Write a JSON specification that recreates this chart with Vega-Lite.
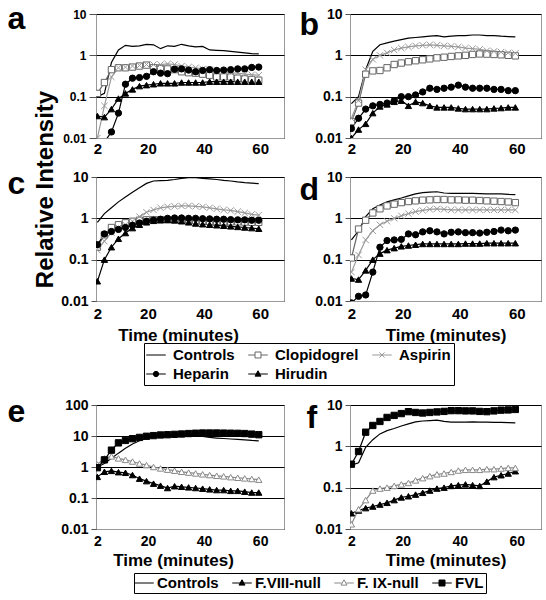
{
"$schema":"https://vega.github.io/schema/vega-lite/v6.json",
"background":"white",
"padding":{"left":6,"top":1,"right":0,"bottom":0},
"datasets":{
"a":[
{"s":"Controls","t":2,"v":0.1},{"s":"Controls","t":4.5,"v":0.12},{"s":"Controls","t":7,"v":0.67},{"s":"Controls","t":9.5,"v":1.35},{"s":"Controls","t":12,"v":1.75},{"s":"Controls","t":14.5,"v":1.65},{"s":"Controls","t":17,"v":1.7},{"s":"Controls","t":19.5,"v":1.85},{"s":"Controls","t":22,"v":1.8},{"s":"Controls","t":24.5,"v":1.45},{"s":"Controls","t":27,"v":1.7},{"s":"Controls","t":29.5,"v":1.65},{"s":"Controls","t":32,"v":1.85},{"s":"Controls","t":34.5,"v":1.7},{"s":"Controls","t":37,"v":1.6},{"s":"Controls","t":39.5,"v":1.65},{"s":"Controls","t":42,"v":1.35},{"s":"Controls","t":44.5,"v":1.32},{"s":"Controls","t":47,"v":1.3},{"s":"Controls","t":49.5,"v":1.25},{"s":"Controls","t":52,"v":1.2},{"s":"Controls","t":54.5,"v":1.15},{"s":"Controls","t":57,"v":1.1},{"s":"Controls","t":59.5,"v":1.08},
{"s":"Clopidogrel","t":2,"v":0.12},{"s":"Clopidogrel","t":4.5,"v":0.22},{"s":"Clopidogrel","t":7,"v":0.45},{"s":"Clopidogrel","t":9.5,"v":0.5},{"s":"Clopidogrel","t":12,"v":0.5},{"s":"Clopidogrel","t":14.5,"v":0.52},{"s":"Clopidogrel","t":17,"v":0.55},{"s":"Clopidogrel","t":19.5,"v":0.58},{"s":"Clopidogrel","t":22,"v":0.5},{"s":"Clopidogrel","t":24.5,"v":0.48},{"s":"Clopidogrel","t":27,"v":0.47},{"s":"Clopidogrel","t":29.5,"v":0.45},{"s":"Clopidogrel","t":32,"v":0.4},{"s":"Clopidogrel","t":34.5,"v":0.38},{"s":"Clopidogrel","t":37,"v":0.37},{"s":"Clopidogrel","t":39.5,"v":0.35},{"s":"Clopidogrel","t":42,"v":0.33},{"s":"Clopidogrel","t":44.5,"v":0.3},{"s":"Clopidogrel","t":47,"v":0.3},{"s":"Clopidogrel","t":49.5,"v":0.3},{"s":"Clopidogrel","t":52,"v":0.28},{"s":"Clopidogrel","t":54.5,"v":0.27},{"s":"Clopidogrel","t":57,"v":0.26},{"s":"Clopidogrel","t":59.5,"v":0.25},
{"s":"Aspirin","t":2,"v":0.01},{"s":"Aspirin","t":4.5,"v":0.06},{"s":"Aspirin","t":7,"v":0.3},{"s":"Aspirin","t":9.5,"v":0.5},{"s":"Aspirin","t":12,"v":0.52},{"s":"Aspirin","t":14.5,"v":0.55},{"s":"Aspirin","t":17,"v":0.57},{"s":"Aspirin","t":19.5,"v":0.6},{"s":"Aspirin","t":22,"v":0.6},{"s":"Aspirin","t":24.5,"v":0.6},{"s":"Aspirin","t":27,"v":0.62},{"s":"Aspirin","t":29.5,"v":0.6},{"s":"Aspirin","t":32,"v":0.55},{"s":"Aspirin","t":34.5,"v":0.52},{"s":"Aspirin","t":37,"v":0.5},{"s":"Aspirin","t":39.5,"v":0.47},{"s":"Aspirin","t":42,"v":0.45},{"s":"Aspirin","t":44.5,"v":0.42},{"s":"Aspirin","t":47,"v":0.4},{"s":"Aspirin","t":49.5,"v":0.38},{"s":"Aspirin","t":52,"v":0.37},{"s":"Aspirin","t":54.5,"v":0.35},{"s":"Aspirin","t":57,"v":0.34},{"s":"Aspirin","t":59.5,"v":0.33},
{"s":"Heparin","t":2,"v":0.005},{"s":"Heparin","t":4.5,"v":0.008},{"s":"Heparin","t":7,"v":0.014},{"s":"Heparin","t":9.5,"v":0.04},{"s":"Heparin","t":12,"v":0.2},{"s":"Heparin","t":14.5,"v":0.28},{"s":"Heparin","t":17,"v":0.29},{"s":"Heparin","t":19.5,"v":0.31},{"s":"Heparin","t":22,"v":0.4},{"s":"Heparin","t":24.5,"v":0.37},{"s":"Heparin","t":27,"v":0.36},{"s":"Heparin","t":29.5,"v":0.46},{"s":"Heparin","t":32,"v":0.47},{"s":"Heparin","t":34.5,"v":0.44},{"s":"Heparin","t":37,"v":0.4},{"s":"Heparin","t":39.5,"v":0.43},{"s":"Heparin","t":42,"v":0.45},{"s":"Heparin","t":44.5,"v":0.43},{"s":"Heparin","t":47,"v":0.44},{"s":"Heparin","t":49.5,"v":0.45},{"s":"Heparin","t":52,"v":0.47},{"s":"Heparin","t":54.5,"v":0.47},{"s":"Heparin","t":57,"v":0.51},{"s":"Heparin","t":59.5,"v":0.52},
{"s":"Hirudin","t":2,"v":0.034},{"s":"Hirudin","t":4.5,"v":0.032},{"s":"Hirudin","t":7,"v":0.05},{"s":"Hirudin","t":9.5,"v":0.09},{"s":"Hirudin","t":12,"v":0.12},{"s":"Hirudin","t":14.5,"v":0.15},{"s":"Hirudin","t":17,"v":0.18},{"s":"Hirudin","t":19.5,"v":0.19},{"s":"Hirudin","t":22,"v":0.2},{"s":"Hirudin","t":24.5,"v":0.21},{"s":"Hirudin","t":27,"v":0.21},{"s":"Hirudin","t":29.5,"v":0.21},{"s":"Hirudin","t":32,"v":0.22},{"s":"Hirudin","t":34.5,"v":0.22},{"s":"Hirudin","t":37,"v":0.22},{"s":"Hirudin","t":39.5,"v":0.22},{"s":"Hirudin","t":42,"v":0.23},{"s":"Hirudin","t":44.5,"v":0.23},{"s":"Hirudin","t":47,"v":0.23},{"s":"Hirudin","t":49.5,"v":0.23},{"s":"Hirudin","t":52,"v":0.23},{"s":"Hirudin","t":54.5,"v":0.23},{"s":"Hirudin","t":57,"v":0.23},{"s":"Hirudin","t":59.5,"v":0.23}
],
"b":[
{"s":"Controls","t":2,"v":0.068},{"s":"Controls","t":4.5,"v":0.1},{"s":"Controls","t":7,"v":0.45},{"s":"Controls","t":9.5,"v":1.25},{"s":"Controls","t":12,"v":1.8},{"s":"Controls","t":14.5,"v":2.0},{"s":"Controls","t":17,"v":2.2},{"s":"Controls","t":19.5,"v":2.4},{"s":"Controls","t":22,"v":2.6},{"s":"Controls","t":24.5,"v":2.7},{"s":"Controls","t":27,"v":2.8},{"s":"Controls","t":29.5,"v":2.9},{"s":"Controls","t":32,"v":3.0},{"s":"Controls","t":34.5,"v":2.8},{"s":"Controls","t":37,"v":2.9},{"s":"Controls","t":39.5,"v":3.0},{"s":"Controls","t":42,"v":3.0},{"s":"Controls","t":44.5,"v":3.1},{"s":"Controls","t":47,"v":3.1},{"s":"Controls","t":49.5,"v":3.0},{"s":"Controls","t":52,"v":3.0},{"s":"Controls","t":54.5,"v":2.9},{"s":"Controls","t":57,"v":2.85},{"s":"Controls","t":59.5,"v":2.8},
{"s":"Clopidogrel","t":2,"v":0.025},{"s":"Clopidogrel","t":4.5,"v":0.07},{"s":"Clopidogrel","t":7,"v":0.35},{"s":"Clopidogrel","t":9.5,"v":0.42},{"s":"Clopidogrel","t":12,"v":0.43},{"s":"Clopidogrel","t":14.5,"v":0.5},{"s":"Clopidogrel","t":17,"v":0.6},{"s":"Clopidogrel","t":19.5,"v":0.65},{"s":"Clopidogrel","t":22,"v":0.7},{"s":"Clopidogrel","t":24.5,"v":0.74},{"s":"Clopidogrel","t":27,"v":0.78},{"s":"Clopidogrel","t":29.5,"v":0.82},{"s":"Clopidogrel","t":32,"v":0.87},{"s":"Clopidogrel","t":34.5,"v":0.9},{"s":"Clopidogrel","t":37,"v":0.94},{"s":"Clopidogrel","t":39.5,"v":0.97},{"s":"Clopidogrel","t":42,"v":1.0},{"s":"Clopidogrel","t":44.5,"v":1.05},{"s":"Clopidogrel","t":47,"v":1.08},{"s":"Clopidogrel","t":49.5,"v":1.07},{"s":"Clopidogrel","t":52,"v":1.05},{"s":"Clopidogrel","t":54.5,"v":1.03},{"s":"Clopidogrel","t":57,"v":1.0},{"s":"Clopidogrel","t":59.5,"v":0.97},
{"s":"Aspirin","t":2,"v":0.03},{"s":"Aspirin","t":4.5,"v":0.08},{"s":"Aspirin","t":7,"v":0.45},{"s":"Aspirin","t":9.5,"v":0.8},{"s":"Aspirin","t":12,"v":1.0},{"s":"Aspirin","t":14.5,"v":1.15},{"s":"Aspirin","t":17,"v":1.35},{"s":"Aspirin","t":19.5,"v":1.5},{"s":"Aspirin","t":22,"v":1.6},{"s":"Aspirin","t":24.5,"v":1.7},{"s":"Aspirin","t":27,"v":1.75},{"s":"Aspirin","t":29.5,"v":1.8},{"s":"Aspirin","t":32,"v":1.75},{"s":"Aspirin","t":34.5,"v":1.7},{"s":"Aspirin","t":37,"v":1.65},{"s":"Aspirin","t":39.5,"v":1.6},{"s":"Aspirin","t":42,"v":1.5},{"s":"Aspirin","t":44.5,"v":1.45},{"s":"Aspirin","t":47,"v":1.4},{"s":"Aspirin","t":49.5,"v":1.3},{"s":"Aspirin","t":52,"v":1.25},{"s":"Aspirin","t":54.5,"v":1.2},{"s":"Aspirin","t":57,"v":1.15},{"s":"Aspirin","t":59.5,"v":1.12},
{"s":"Heparin","t":2,"v":0.017},{"s":"Heparin","t":4.5,"v":0.03},{"s":"Heparin","t":7,"v":0.05},{"s":"Heparin","t":9.5,"v":0.06},{"s":"Heparin","t":12,"v":0.065},{"s":"Heparin","t":14.5,"v":0.07},{"s":"Heparin","t":17,"v":0.08},{"s":"Heparin","t":19.5,"v":0.1},{"s":"Heparin","t":22,"v":0.1},{"s":"Heparin","t":24.5,"v":0.11},{"s":"Heparin","t":27,"v":0.13},{"s":"Heparin","t":29.5,"v":0.16},{"s":"Heparin","t":32,"v":0.15},{"s":"Heparin","t":34.5,"v":0.16},{"s":"Heparin","t":37,"v":0.17},{"s":"Heparin","t":39.5,"v":0.19},{"s":"Heparin","t":42,"v":0.17},{"s":"Heparin","t":44.5,"v":0.16},{"s":"Heparin","t":47,"v":0.16},{"s":"Heparin","t":49.5,"v":0.16},{"s":"Heparin","t":52,"v":0.15},{"s":"Heparin","t":54.5,"v":0.15},{"s":"Heparin","t":57,"v":0.14},{"s":"Heparin","t":59.5,"v":0.14},
{"s":"Hirudin","t":2,"v":0.01},{"s":"Hirudin","t":4.5,"v":0.016},{"s":"Hirudin","t":7,"v":0.022},{"s":"Hirudin","t":9.5,"v":0.04},{"s":"Hirudin","t":12,"v":0.058},{"s":"Hirudin","t":14.5,"v":0.065},{"s":"Hirudin","t":17,"v":0.075},{"s":"Hirudin","t":19.5,"v":0.08},{"s":"Hirudin","t":22,"v":0.06},{"s":"Hirudin","t":24.5,"v":0.075},{"s":"Hirudin","t":27,"v":0.07},{"s":"Hirudin","t":29.5,"v":0.06},{"s":"Hirudin","t":32,"v":0.055},{"s":"Hirudin","t":34.5,"v":0.055},{"s":"Hirudin","t":37,"v":0.055},{"s":"Hirudin","t":39.5,"v":0.052},{"s":"Hirudin","t":42,"v":0.05},{"s":"Hirudin","t":44.5,"v":0.05},{"s":"Hirudin","t":47,"v":0.05},{"s":"Hirudin","t":49.5,"v":0.05},{"s":"Hirudin","t":52,"v":0.052},{"s":"Hirudin","t":54.5,"v":0.053},{"s":"Hirudin","t":57,"v":0.055},{"s":"Hirudin","t":59.5,"v":0.055}
],
"c":[
{"s":"Controls","t":2,"v":0.8},{"s":"Controls","t":4.5,"v":1.3},{"s":"Controls","t":7,"v":1.8},{"s":"Controls","t":9.5,"v":2.5},{"s":"Controls","t":12,"v":3.3},{"s":"Controls","t":14.5,"v":4.3},{"s":"Controls","t":17,"v":5.5},{"s":"Controls","t":19.5,"v":7.0},{"s":"Controls","t":22,"v":8.0},{"s":"Controls","t":24.5,"v":8.2},{"s":"Controls","t":27,"v":8.3},{"s":"Controls","t":29.5,"v":8.7},{"s":"Controls","t":32,"v":9.3},{"s":"Controls","t":34.5,"v":9.6},{"s":"Controls","t":37,"v":9.6},{"s":"Controls","t":39.5,"v":9.3},{"s":"Controls","t":42,"v":9.0},{"s":"Controls","t":44.5,"v":8.7},{"s":"Controls","t":47,"v":8.3},{"s":"Controls","t":49.5,"v":8.0},{"s":"Controls","t":52,"v":7.6},{"s":"Controls","t":54.5,"v":7.3},{"s":"Controls","t":57,"v":7.1},{"s":"Controls","t":59.5,"v":6.9},
{"s":"Clopidogrel","t":2,"v":0.2},{"s":"Clopidogrel","t":4.5,"v":0.4},{"s":"Clopidogrel","t":7,"v":0.6},{"s":"Clopidogrel","t":9.5,"v":0.7},{"s":"Clopidogrel","t":12,"v":0.78},{"s":"Clopidogrel","t":14.5,"v":0.85},{"s":"Clopidogrel","t":17,"v":0.9},{"s":"Clopidogrel","t":19.5,"v":0.92},{"s":"Clopidogrel","t":22,"v":0.93},{"s":"Clopidogrel","t":24.5,"v":0.93},{"s":"Clopidogrel","t":27,"v":0.92},{"s":"Clopidogrel","t":29.5,"v":0.9},{"s":"Clopidogrel","t":32,"v":0.9},{"s":"Clopidogrel","t":34.5,"v":0.88},{"s":"Clopidogrel","t":37,"v":0.87},{"s":"Clopidogrel","t":39.5,"v":0.86},{"s":"Clopidogrel","t":42,"v":0.85},{"s":"Clopidogrel","t":44.5,"v":0.84},{"s":"Clopidogrel","t":47,"v":0.83},{"s":"Clopidogrel","t":49.5,"v":0.82},{"s":"Clopidogrel","t":52,"v":0.82},{"s":"Clopidogrel","t":54.5,"v":0.81},{"s":"Clopidogrel","t":57,"v":0.8},{"s":"Clopidogrel","t":59.5,"v":0.8},
{"s":"Aspirin","t":2,"v":0.17},{"s":"Aspirin","t":4.5,"v":0.28},{"s":"Aspirin","t":7,"v":0.45},{"s":"Aspirin","t":9.5,"v":0.6},{"s":"Aspirin","t":12,"v":0.7},{"s":"Aspirin","t":14.5,"v":0.85},{"s":"Aspirin","t":17,"v":1.1},{"s":"Aspirin","t":19.5,"v":1.4},{"s":"Aspirin","t":22,"v":1.6},{"s":"Aspirin","t":24.5,"v":1.8},{"s":"Aspirin","t":27,"v":1.9},{"s":"Aspirin","t":29.5,"v":1.95},{"s":"Aspirin","t":32,"v":2.0},{"s":"Aspirin","t":34.5,"v":2.0},{"s":"Aspirin","t":37,"v":1.95},{"s":"Aspirin","t":39.5,"v":1.9},{"s":"Aspirin","t":42,"v":1.8},{"s":"Aspirin","t":44.5,"v":1.7},{"s":"Aspirin","t":47,"v":1.6},{"s":"Aspirin","t":49.5,"v":1.55},{"s":"Aspirin","t":52,"v":1.45},{"s":"Aspirin","t":54.5,"v":1.35},{"s":"Aspirin","t":57,"v":1.25},{"s":"Aspirin","t":59.5,"v":1.2},
{"s":"Heparin","t":2,"v":0.23},{"s":"Heparin","t":4.5,"v":0.42},{"s":"Heparin","t":7,"v":0.48},{"s":"Heparin","t":9.5,"v":0.54},{"s":"Heparin","t":12,"v":0.6},{"s":"Heparin","t":14.5,"v":0.68},{"s":"Heparin","t":17,"v":0.77},{"s":"Heparin","t":19.5,"v":0.85},{"s":"Heparin","t":22,"v":0.9},{"s":"Heparin","t":24.5,"v":0.95},{"s":"Heparin","t":27,"v":1.0},{"s":"Heparin","t":29.5,"v":1.02},{"s":"Heparin","t":32,"v":1.02},{"s":"Heparin","t":34.5,"v":1.0},{"s":"Heparin","t":37,"v":1.0},{"s":"Heparin","t":39.5,"v":0.98},{"s":"Heparin","t":42,"v":0.97},{"s":"Heparin","t":44.5,"v":0.95},{"s":"Heparin","t":47,"v":0.95},{"s":"Heparin","t":49.5,"v":0.93},{"s":"Heparin","t":52,"v":0.92},{"s":"Heparin","t":54.5,"v":0.92},{"s":"Heparin","t":57,"v":0.9},{"s":"Heparin","t":59.5,"v":0.9},
{"s":"Hirudin","t":2,"v":0.03},{"s":"Hirudin","t":4.5,"v":0.1},{"s":"Hirudin","t":7,"v":0.2},{"s":"Hirudin","t":9.5,"v":0.32},{"s":"Hirudin","t":12,"v":0.44},{"s":"Hirudin","t":14.5,"v":0.58},{"s":"Hirudin","t":17,"v":0.7},{"s":"Hirudin","t":19.5,"v":0.8},{"s":"Hirudin","t":22,"v":0.87},{"s":"Hirudin","t":24.5,"v":0.9},{"s":"Hirudin","t":27,"v":0.92},{"s":"Hirudin","t":29.5,"v":0.9},{"s":"Hirudin","t":32,"v":0.85},{"s":"Hirudin","t":34.5,"v":0.8},{"s":"Hirudin","t":37,"v":0.75},{"s":"Hirudin","t":39.5,"v":0.72},{"s":"Hirudin","t":42,"v":0.7},{"s":"Hirudin","t":44.5,"v":0.68},{"s":"Hirudin","t":47,"v":0.66},{"s":"Hirudin","t":49.5,"v":0.64},{"s":"Hirudin","t":52,"v":0.62},{"s":"Hirudin","t":54.5,"v":0.6},{"s":"Hirudin","t":57,"v":0.58},{"s":"Hirudin","t":59.5,"v":0.56}
],
"d":[
{"s":"Controls","t":2,"v":0.3},{"s":"Controls","t":4.5,"v":0.5},{"s":"Controls","t":7,"v":1.1},{"s":"Controls","t":9.5,"v":1.7},{"s":"Controls","t":12,"v":2.1},{"s":"Controls","t":14.5,"v":2.5},{"s":"Controls","t":17,"v":2.8},{"s":"Controls","t":19.5,"v":3.1},{"s":"Controls","t":22,"v":3.5},{"s":"Controls","t":24.5,"v":3.9},{"s":"Controls","t":27,"v":4.2},{"s":"Controls","t":29.5,"v":4.3},{"s":"Controls","t":32,"v":4.4},{"s":"Controls","t":34.5,"v":4.1},{"s":"Controls","t":37,"v":4.0},{"s":"Controls","t":39.5,"v":4.0},{"s":"Controls","t":42,"v":4.0},{"s":"Controls","t":44.5,"v":4.0},{"s":"Controls","t":47,"v":3.95},{"s":"Controls","t":49.5,"v":3.9},{"s":"Controls","t":52,"v":3.9},{"s":"Controls","t":54.5,"v":3.9},{"s":"Controls","t":57,"v":3.8},{"s":"Controls","t":59.5,"v":3.75},
{"s":"Clopidogrel","t":2,"v":0.11},{"s":"Clopidogrel","t":4.5,"v":0.55},{"s":"Clopidogrel","t":7,"v":0.9},{"s":"Clopidogrel","t":9.5,"v":1.35},{"s":"Clopidogrel","t":12,"v":1.7},{"s":"Clopidogrel","t":14.5,"v":2.0},{"s":"Clopidogrel","t":17,"v":2.2},{"s":"Clopidogrel","t":19.5,"v":2.4},{"s":"Clopidogrel","t":22,"v":2.55},{"s":"Clopidogrel","t":24.5,"v":2.65},{"s":"Clopidogrel","t":27,"v":2.75},{"s":"Clopidogrel","t":29.5,"v":2.8},{"s":"Clopidogrel","t":32,"v":2.85},{"s":"Clopidogrel","t":34.5,"v":2.85},{"s":"Clopidogrel","t":37,"v":2.8},{"s":"Clopidogrel","t":39.5,"v":2.8},{"s":"Clopidogrel","t":42,"v":2.75},{"s":"Clopidogrel","t":44.5,"v":2.75},{"s":"Clopidogrel","t":47,"v":2.7},{"s":"Clopidogrel","t":49.5,"v":2.65},{"s":"Clopidogrel","t":52,"v":2.6},{"s":"Clopidogrel","t":54.5,"v":2.55},{"s":"Clopidogrel","t":57,"v":2.5},{"s":"Clopidogrel","t":59.5,"v":2.4},
{"s":"Aspirin","t":2,"v":0.05},{"s":"Aspirin","t":4.5,"v":0.13},{"s":"Aspirin","t":7,"v":0.3},{"s":"Aspirin","t":9.5,"v":0.5},{"s":"Aspirin","t":12,"v":0.7},{"s":"Aspirin","t":14.5,"v":0.85},{"s":"Aspirin","t":17,"v":1.0},{"s":"Aspirin","t":19.5,"v":1.15},{"s":"Aspirin","t":22,"v":1.3},{"s":"Aspirin","t":24.5,"v":1.45},{"s":"Aspirin","t":27,"v":1.55},{"s":"Aspirin","t":29.5,"v":1.65},{"s":"Aspirin","t":32,"v":1.7},{"s":"Aspirin","t":34.5,"v":1.65},{"s":"Aspirin","t":37,"v":1.6},{"s":"Aspirin","t":39.5,"v":1.6},{"s":"Aspirin","t":42,"v":1.6},{"s":"Aspirin","t":44.5,"v":1.6},{"s":"Aspirin","t":47,"v":1.6},{"s":"Aspirin","t":49.5,"v":1.6},{"s":"Aspirin","t":52,"v":1.6},{"s":"Aspirin","t":54.5,"v":1.6},{"s":"Aspirin","t":57,"v":1.6},{"s":"Aspirin","t":59.5,"v":1.6},
{"s":"Heparin","t":2,"v":0.009},{"s":"Heparin","t":4.5,"v":0.013},{"s":"Heparin","t":7,"v":0.014},{"s":"Heparin","t":9.5,"v":0.05},{"s":"Heparin","t":12,"v":0.2},{"s":"Heparin","t":14.5,"v":0.29},{"s":"Heparin","t":17,"v":0.3},{"s":"Heparin","t":19.5,"v":0.31},{"s":"Heparin","t":22,"v":0.42},{"s":"Heparin","t":24.5,"v":0.4},{"s":"Heparin","t":27,"v":0.47},{"s":"Heparin","t":29.5,"v":0.5},{"s":"Heparin","t":32,"v":0.47},{"s":"Heparin","t":34.5,"v":0.42},{"s":"Heparin","t":37,"v":0.46},{"s":"Heparin","t":39.5,"v":0.47},{"s":"Heparin","t":42,"v":0.45},{"s":"Heparin","t":44.5,"v":0.45},{"s":"Heparin","t":47,"v":0.44},{"s":"Heparin","t":49.5,"v":0.46},{"s":"Heparin","t":52,"v":0.48},{"s":"Heparin","t":54.5,"v":0.52},{"s":"Heparin","t":57,"v":0.5},{"s":"Heparin","t":59.5,"v":0.52},
{"s":"Hirudin","t":2,"v":0.035},{"s":"Hirudin","t":4.5,"v":0.033},{"s":"Hirudin","t":7,"v":0.055},{"s":"Hirudin","t":9.5,"v":0.1},{"s":"Hirudin","t":12,"v":0.14},{"s":"Hirudin","t":14.5,"v":0.17},{"s":"Hirudin","t":17,"v":0.19},{"s":"Hirudin","t":19.5,"v":0.21},{"s":"Hirudin","t":22,"v":0.22},{"s":"Hirudin","t":24.5,"v":0.23},{"s":"Hirudin","t":27,"v":0.24},{"s":"Hirudin","t":29.5,"v":0.24},{"s":"Hirudin","t":32,"v":0.24},{"s":"Hirudin","t":34.5,"v":0.24},{"s":"Hirudin","t":37,"v":0.24},{"s":"Hirudin","t":39.5,"v":0.24},{"s":"Hirudin","t":42,"v":0.245},{"s":"Hirudin","t":44.5,"v":0.245},{"s":"Hirudin","t":47,"v":0.245},{"s":"Hirudin","t":49.5,"v":0.25},{"s":"Hirudin","t":52,"v":0.25},{"s":"Hirudin","t":54.5,"v":0.25},{"s":"Hirudin","t":57,"v":0.25},{"s":"Hirudin","t":59.5,"v":0.25}
],
"e":[
{"s":"Controls","t":2,"v":1.0},{"s":"Controls","t":4.5,"v":1.3},{"s":"Controls","t":7,"v":1.9},{"s":"Controls","t":9.5,"v":2.8},{"s":"Controls","t":12,"v":4.0},{"s":"Controls","t":14.5,"v":5.5},{"s":"Controls","t":17,"v":7.0},{"s":"Controls","t":19.5,"v":8.5},{"s":"Controls","t":22,"v":9.5},{"s":"Controls","t":24.5,"v":10.3},{"s":"Controls","t":27,"v":10.8},{"s":"Controls","t":29.5,"v":11},{"s":"Controls","t":32,"v":11},{"s":"Controls","t":34.5,"v":10.8},{"s":"Controls","t":37,"v":10.3},{"s":"Controls","t":39.5,"v":9.7},{"s":"Controls","t":42,"v":9.0},{"s":"Controls","t":44.5,"v":8.6},{"s":"Controls","t":47,"v":8.3},{"s":"Controls","t":49.5,"v":8.0},{"s":"Controls","t":52,"v":7.8},{"s":"Controls","t":54.5,"v":7.5},{"s":"Controls","t":57,"v":7.2},{"s":"Controls","t":59.5,"v":7.0},
{"s":"F.VIII-null","t":2,"v":0.48},{"s":"F.VIII-null","t":4.5,"v":0.7},{"s":"F.VIII-null","t":7,"v":0.75},{"s":"F.VIII-null","t":9.5,"v":0.68},{"s":"F.VIII-null","t":12,"v":0.65},{"s":"F.VIII-null","t":14.5,"v":0.55},{"s":"F.VIII-null","t":17,"v":0.42},{"s":"F.VIII-null","t":19.5,"v":0.35},{"s":"F.VIII-null","t":22,"v":0.29},{"s":"F.VIII-null","t":24.5,"v":0.25},{"s":"F.VIII-null","t":27,"v":0.21},{"s":"F.VIII-null","t":29.5,"v":0.24},{"s":"F.VIII-null","t":32,"v":0.23},{"s":"F.VIII-null","t":34.5,"v":0.22},{"s":"F.VIII-null","t":37,"v":0.21},{"s":"F.VIII-null","t":39.5,"v":0.2},{"s":"F.VIII-null","t":42,"v":0.19},{"s":"F.VIII-null","t":44.5,"v":0.18},{"s":"F.VIII-null","t":47,"v":0.18},{"s":"F.VIII-null","t":49.5,"v":0.17},{"s":"F.VIII-null","t":52,"v":0.17},{"s":"F.VIII-null","t":54.5,"v":0.16},{"s":"F.VIII-null","t":57,"v":0.15},{"s":"F.VIII-null","t":59.5,"v":0.15},
{"s":"F. IX-null","t":2,"v":1.2},{"s":"F. IX-null","t":4.5,"v":1.9},{"s":"F. IX-null","t":7,"v":2.2},{"s":"F. IX-null","t":9.5,"v":1.9},{"s":"F. IX-null","t":12,"v":1.7},{"s":"F. IX-null","t":14.5,"v":1.5},{"s":"F. IX-null","t":17,"v":1.3},{"s":"F. IX-null","t":19.5,"v":1.15},{"s":"F. IX-null","t":22,"v":1.0},{"s":"F. IX-null","t":24.5,"v":0.9},{"s":"F. IX-null","t":27,"v":0.82},{"s":"F. IX-null","t":29.5,"v":0.76},{"s":"F. IX-null","t":32,"v":0.7},{"s":"F. IX-null","t":34.5,"v":0.66},{"s":"F. IX-null","t":37,"v":0.62},{"s":"F. IX-null","t":39.5,"v":0.58},{"s":"F. IX-null","t":42,"v":0.55},{"s":"F. IX-null","t":44.5,"v":0.52},{"s":"F. IX-null","t":47,"v":0.5},{"s":"F. IX-null","t":49.5,"v":0.47},{"s":"F. IX-null","t":52,"v":0.45},{"s":"F. IX-null","t":54.5,"v":0.43},{"s":"F. IX-null","t":57,"v":0.41},{"s":"F. IX-null","t":59.5,"v":0.39},
{"s":"FVL","t":2,"v":0.95},{"s":"FVL","t":4.5,"v":1.7},{"s":"FVL","t":7,"v":3.5},{"s":"FVL","t":9.5,"v":6.0},{"s":"FVL","t":12,"v":7.2},{"s":"FVL","t":14.5,"v":8.2},{"s":"FVL","t":17,"v":9.0},{"s":"FVL","t":19.5,"v":9.8},{"s":"FVL","t":22,"v":10.3},{"s":"FVL","t":24.5,"v":10.8},{"s":"FVL","t":27,"v":11},{"s":"FVL","t":29.5,"v":11.3},{"s":"FVL","t":32,"v":11.6},{"s":"FVL","t":34.5,"v":12},{"s":"FVL","t":37,"v":12.3},{"s":"FVL","t":39.5,"v":12.5},{"s":"FVL","t":42,"v":12.5},{"s":"FVL","t":44.5,"v":12.5},{"s":"FVL","t":47,"v":12.4},{"s":"FVL","t":49.5,"v":12.3},{"s":"FVL","t":52,"v":12.2},{"s":"FVL","t":54.5,"v":12},{"s":"FVL","t":57,"v":11.5},{"s":"FVL","t":59.5,"v":11}
],
"f":[
{"s":"Controls","t":2,"v":0.35},{"s":"Controls","t":4.5,"v":0.4},{"s":"Controls","t":7,"v":0.95},{"s":"Controls","t":9.5,"v":1.45},{"s":"Controls","t":12,"v":2.0},{"s":"Controls","t":14.5,"v":2.4},{"s":"Controls","t":17,"v":2.7},{"s":"Controls","t":19.5,"v":3.1},{"s":"Controls","t":22,"v":3.5},{"s":"Controls","t":24.5,"v":3.9},{"s":"Controls","t":27,"v":4.1},{"s":"Controls","t":29.5,"v":4.2},{"s":"Controls","t":32,"v":4.3},{"s":"Controls","t":34.5,"v":4.0},{"s":"Controls","t":37,"v":3.85},{"s":"Controls","t":39.5,"v":3.85},{"s":"Controls","t":42,"v":3.85},{"s":"Controls","t":44.5,"v":3.9},{"s":"Controls","t":47,"v":3.85},{"s":"Controls","t":49.5,"v":3.85},{"s":"Controls","t":52,"v":3.8},{"s":"Controls","t":54.5,"v":3.8},{"s":"Controls","t":57,"v":3.75},{"s":"Controls","t":59.5,"v":3.7},
{"s":"F.VIII-null","t":2,"v":0.024},{"s":"F.VIII-null","t":4.5,"v":0.028},{"s":"F.VIII-null","t":7,"v":0.032},{"s":"F.VIII-null","t":9.5,"v":0.035},{"s":"F.VIII-null","t":12,"v":0.039},{"s":"F.VIII-null","t":14.5,"v":0.043},{"s":"F.VIII-null","t":17,"v":0.05},{"s":"F.VIII-null","t":19.5,"v":0.058},{"s":"F.VIII-null","t":22,"v":0.062},{"s":"F.VIII-null","t":24.5,"v":0.068},{"s":"F.VIII-null","t":27,"v":0.075},{"s":"F.VIII-null","t":29.5,"v":0.085},{"s":"F.VIII-null","t":32,"v":0.095},{"s":"F.VIII-null","t":34.5,"v":0.1},{"s":"F.VIII-null","t":37,"v":0.11},{"s":"F.VIII-null","t":39.5,"v":0.115},{"s":"F.VIII-null","t":42,"v":0.12},{"s":"F.VIII-null","t":44.5,"v":0.115},{"s":"F.VIII-null","t":47,"v":0.11},{"s":"F.VIII-null","t":49.5,"v":0.14},{"s":"F.VIII-null","t":52,"v":0.18},{"s":"F.VIII-null","t":54.5,"v":0.2},{"s":"F.VIII-null","t":57,"v":0.22},{"s":"F.VIII-null","t":59.5,"v":0.25},
{"s":"F. IX-null","t":2,"v":0.013},{"s":"F. IX-null","t":4.5,"v":0.03},{"s":"F. IX-null","t":7,"v":0.05},{"s":"F. IX-null","t":9.5,"v":0.085},{"s":"F. IX-null","t":12,"v":0.095},{"s":"F. IX-null","t":14.5,"v":0.1},{"s":"F. IX-null","t":17,"v":0.11},{"s":"F. IX-null","t":19.5,"v":0.12},{"s":"F. IX-null","t":22,"v":0.13},{"s":"F. IX-null","t":24.5,"v":0.15},{"s":"F. IX-null","t":27,"v":0.17},{"s":"F. IX-null","t":29.5,"v":0.19},{"s":"F. IX-null","t":32,"v":0.21},{"s":"F. IX-null","t":34.5,"v":0.22},{"s":"F. IX-null","t":37,"v":0.24},{"s":"F. IX-null","t":39.5,"v":0.26},{"s":"F. IX-null","t":42,"v":0.27},{"s":"F. IX-null","t":44.5,"v":0.27},{"s":"F. IX-null","t":47,"v":0.27},{"s":"F. IX-null","t":49.5,"v":0.28},{"s":"F. IX-null","t":52,"v":0.28},{"s":"F. IX-null","t":54.5,"v":0.29},{"s":"F. IX-null","t":57,"v":0.3},{"s":"F. IX-null","t":59.5,"v":0.3},
{"s":"FVL","t":2,"v":0.37},{"s":"FVL","t":4.5,"v":0.75},{"s":"FVL","t":7,"v":2.2},{"s":"FVL","t":9.5,"v":3.2},{"s":"FVL","t":12,"v":4.0},{"s":"FVL","t":14.5,"v":5.0},{"s":"FVL","t":17,"v":5.6},{"s":"FVL","t":19.5,"v":6.2},{"s":"FVL","t":22,"v":6.9},{"s":"FVL","t":24.5,"v":6.6},{"s":"FVL","t":27,"v":6.4},{"s":"FVL","t":29.5,"v":6.6},{"s":"FVL","t":32,"v":6.8},{"s":"FVL","t":34.5,"v":7.0},{"s":"FVL","t":37,"v":7.3},{"s":"FVL","t":39.5,"v":7.3},{"s":"FVL","t":42,"v":7.2},{"s":"FVL","t":44.5,"v":7.2},{"s":"FVL","t":47,"v":7.0},{"s":"FVL","t":49.5,"v":6.9},{"s":"FVL","t":52,"v":7.2},{"s":"FVL","t":54.5,"v":7.5},{"s":"FVL","t":57,"v":7.6},{"s":"FVL","t":59.5,"v":7.8}
]
},
"columns":2,
"bounds":"flush",
"spacing":{"row":39,"column":66},
"resolve":{"scale":{"stroke":"independent","fill":"independent","shape":"independent"}},
"concat":[
{
"width":188,"height":124,"data":{"name":"a"},
"layer":[
{"mark":{"type":"line","clip":true,"strokeWidth":1.2},
"encoding":{
"x":{"field":"t","type":"quantitative","scale":{"domain":[1.5,68.5],"nice":false,"zero":false},"axis":{"values":[2,20,40,60],"title":null,"labelFontSize":15,"labelPadding":3,"ticks":false,"grid":false,"labelFlush":false}},
"y":{"field":"v","type":"quantitative","scale":{"type":"log","domain":[0.01,10]},"axis":{"values":[0.01,0.1,1,10],"format":"~g","labelFontSize":12,"labelPadding":3,"tickSize":7,"tickColor":"#555","domain":false,"grid":true,"gridColor":"black","gridWidth":1.2,"title":"a","titleFontSize":32,"titleAngle":0,"titleAlign":"left","titleBaseline":"alphabetic","titleX":-89,"titleY":14}},
"stroke":{"field":"s","type":"nominal","scale":{"domain":["Controls","Clopidogrel","Aspirin","Heparin","Hirudin"],"range":["black","#666666","#999999","black","black"]},"legend":null}}},
{"transform":[{"filter":"datum.s != 'Controls'"}],
"mark":{"type":"point","clip":true,"filled":true,"opacity":1,"size":40,"strokeWidth":1},
"encoding":{
"x":{"field":"t","type":"quantitative"},
"y":{"field":"v","type":"quantitative"},
"stroke":{"field":"s","type":"nominal","scale":{"domain":["Controls","Clopidogrel","Aspirin","Heparin","Hirudin"],"range":["black","#666666","#999999","black","black"]},"legend":null},
"fill":{"field":"s","type":"nominal","scale":{"domain":["Controls","Clopidogrel","Aspirin","Heparin","Hirudin"],"range":["black","white","white","black","black"]},"legend":null},
"shape":{"field":"s","type":"nominal","scale":{"domain":["Controls","Clopidogrel","Aspirin","Heparin","Hirudin"],"range":["circle","square","M-1,-1L1,1M-1,1L1,-1","circle","triangle-up"]},"legend":null}}}
]
},
{
"width":191,"height":124,"data":{"name":"b"},
"layer":[
{"mark":{"type":"line","clip":true,"strokeWidth":1.2},
"encoding":{
"x":{"field":"t","type":"quantitative","scale":{"domain":[1.5,68.5],"nice":false,"zero":false},"axis":{"values":[2,20,40,60],"title":null,"labelFontSize":15,"labelPadding":3,"ticks":false,"grid":false,"labelFlush":false}},
"y":{"field":"v","type":"quantitative","scale":{"type":"log","domain":[0.01,10]},"axis":{"values":[0.01,0.1,1,10],"format":"~g","labelFontSize":14,"labelPadding":3,"tickSize":5,"tickColor":"#555","domain":false,"grid":true,"gridColor":"black","gridWidth":1.2,"title":"b","titleFontSize":32,"titleAngle":0,"titleAlign":"left","titleBaseline":"alphabetic","titleX":-51,"titleY":20}},
"stroke":{"field":"s","type":"nominal","scale":{"domain":["Controls","Clopidogrel","Aspirin","Heparin","Hirudin"],"range":["black","#666666","#999999","black","black"]},"legend":null}}},
{"transform":[{"filter":"datum.s != 'Controls'"}],
"mark":{"type":"point","clip":true,"filled":true,"opacity":1,"size":40,"strokeWidth":1},
"encoding":{
"x":{"field":"t","type":"quantitative"},
"y":{"field":"v","type":"quantitative"},
"stroke":{"field":"s","type":"nominal","scale":{"domain":["Controls","Clopidogrel","Aspirin","Heparin","Hirudin"],"range":["black","#666666","#999999","black","black"]},"legend":null},
"fill":{"field":"s","type":"nominal","scale":{"domain":["Controls","Clopidogrel","Aspirin","Heparin","Hirudin"],"range":["black","white","white","black","black"]},"legend":null},
"shape":{"field":"s","type":"nominal","scale":{"domain":["Controls","Clopidogrel","Aspirin","Heparin","Hirudin"],"range":["circle","square","M-1,-1L1,1M-1,1L1,-1","circle","triangle-up"]},"legend":null}}}
]
},
{
"width":188,"height":124,"data":{"name":"c"},
"resolve":{"scale":{"y":"independent","stroke":"independent","fill":"independent","shape":"independent"},"axis":{"y":"independent"}},
"layer":[
{"mark":{"type":"line","clip":true,"strokeWidth":1.2},
"encoding":{
"x":{"field":"t","type":"quantitative","scale":{"domain":[1.5,68.5],"nice":false,"zero":false},"axis":{"values":[2,20,40,60],"title":"Time (minutes)","titleFontSize":17,"titleY":39,"titleX":82,"titleBaseline":"alphabetic","labelFontSize":15,"labelPadding":5,"ticks":false,"grid":false,"labelFlush":false}},
"y":{"field":"v","type":"quantitative","scale":{"type":"log","domain":[0.01,10]},"axis":{"orient":"left","values":[0.01,0.1,1,10],"format":"~g","labelFontSize":14,"labelPadding":3,"tickSize":5,"tickColor":"#555","domain":false,"grid":true,"gridColor":"black","gridWidth":1.2,"title":"c","titleFontSize":32,"titleAngle":0,"titleAlign":"left","titleBaseline":"alphabetic","titleX":-89,"titleY":16}},
"stroke":{"field":"s","type":"nominal","scale":{"domain":["Controls","Clopidogrel","Aspirin","Heparin","Hirudin"],"range":["black","#666666","#999999","black","black"]},"legend":null}}},
{"transform":[{"filter":"datum.s != 'Controls'"}],
"mark":{"type":"point","clip":true,"filled":true,"opacity":1,"size":40,"strokeWidth":1},
"encoding":{
"x":{"field":"t","type":"quantitative","scale":{"domain":[1.5,68.5],"nice":false,"zero":false}},
"y":{"field":"v","type":"quantitative","scale":{"type":"log","domain":[0.01,10]},"axis":null},
"stroke":{"field":"s","type":"nominal","scale":{"domain":["Controls","Clopidogrel","Aspirin","Heparin","Hirudin"],"range":["black","#666666","#999999","black","black"]},"legend":null},
"fill":{"field":"s","type":"nominal","scale":{"domain":["Controls","Clopidogrel","Aspirin","Heparin","Hirudin"],"range":["black","white","white","black","black"]},"legend":null},
"shape":{"field":"s","type":"nominal","scale":{"domain":["Controls","Clopidogrel","Aspirin","Heparin","Hirudin"],"range":["circle","square","M-1,-1L1,1M-1,1L1,-1","circle","triangle-up"]},"legend":null}}},
{"transform":[{"filter":"datum.t < 0"}],
"mark":{"type":"point","filled":true,"opacity":1,"strokeWidth":1},
"encoding":{
"x":{"field":"t","type":"quantitative","scale":{"domain":[1.5,68.5],"nice":false,"zero":false}},
"y":{"field":"v","type":"quantitative","scale":{"type":"log","domain":[0.01,10]},"axis":{"orient":"left","title":"Relative Intensity","labels":false,"ticks":false,"domain":false,"grid":false,"titleFontSize":24,"titleAngle":270,"titleAlign":"center","titleBaseline":"alphabetic","titleX":-44,"titleY":12}},
"shape":{"field":"s","type":"nominal","scale":{"domain":["Controls","Clopidogrel","Aspirin","Heparin","Hirudin"],"range":["M-1.15,0H1.15","M-1.15,0H-0.35M0.35,0H1.15M-0.35,-0.35H0.35V0.35H-0.35Z","M-1.15,0H1.15M-0.3,-0.3L0.3,0.3M-0.3,0.3L0.3,-0.3","M-1.15,0H1.15M0.32,0L0.23,0.23L0,0.32L-0.23,0.23L-0.32,0L-0.23,-0.23L0,-0.32L0.23,-0.23Z","M-1.15,0H1.15M0,-0.38L0.35,0.25L-0.35,0.25Z"]},
"legend":{"orient":"none","legendX":48,"legendY":166,"direction":"horizontal","columns":3,"title":null,"symbolSize":289,"symbolStrokeWidth":1,"symbolOpacity":1,"labelFontSize":15,"labelFontWeight":"bold","labelColor":"black","labelOffset":8,"columnPadding":11,"rowPadding":2,"padding":3,"strokeColor":"black","fillColor":"white","labelLimit":200}},
"stroke":{"field":"s","type":"nominal","scale":{"domain":["Controls","Clopidogrel","Aspirin","Heparin","Hirudin"],"range":["black","#666666","#999999","black","black"]},
"legend":{"orient":"none","legendX":48,"legendY":166,"direction":"horizontal","columns":3,"title":null,"symbolSize":289,"symbolStrokeWidth":1,"symbolOpacity":1,"labelFontSize":15,"labelFontWeight":"bold","labelColor":"black","labelOffset":8,"columnPadding":11,"rowPadding":2,"padding":3,"strokeColor":"black","fillColor":"white","labelLimit":200}},
"fill":{"field":"s","type":"nominal","scale":{"domain":["Controls","Clopidogrel","Aspirin","Heparin","Hirudin"],"range":["black","white","white","black","black"]},
"legend":{"orient":"none","legendX":48,"legendY":166,"direction":"horizontal","columns":3,"title":null,"symbolSize":289,"symbolStrokeWidth":1,"symbolOpacity":1,"labelFontSize":15,"labelFontWeight":"bold","labelColor":"black","labelOffset":8,"columnPadding":11,"rowPadding":2,"padding":3,"strokeColor":"black","fillColor":"white","labelLimit":200}}}}
]
},
{
"width":191,"height":124,"data":{"name":"d"},
"layer":[
{"mark":{"type":"line","clip":true,"strokeWidth":1.2},
"encoding":{
"x":{"field":"t","type":"quantitative","scale":{"domain":[1.5,68.5],"nice":false,"zero":false},"axis":{"values":[2,20,40,60],"title":"Time (minutes)","titleFontSize":17,"titleY":39,"titleBaseline":"alphabetic","labelFontSize":15,"labelPadding":5,"ticks":false,"grid":false,"labelFlush":false}},
"y":{"field":"v","type":"quantitative","scale":{"type":"log","domain":[0.01,10]},"axis":{"values":[0.01,0.1,1,10],"format":"~g","labelFontSize":14,"labelPadding":3,"tickSize":5,"tickColor":"#555","domain":false,"grid":true,"gridColor":"black","gridWidth":1.2,"title":"d","titleFontSize":32,"titleAngle":0,"titleAlign":"left","titleBaseline":"alphabetic","titleX":-51,"titleY":22}},
"stroke":{"field":"s","type":"nominal","scale":{"domain":["Controls","Clopidogrel","Aspirin","Heparin","Hirudin"],"range":["black","#666666","#999999","black","black"]},"legend":null}}},
{"transform":[{"filter":"datum.s != 'Controls'"}],
"mark":{"type":"point","clip":true,"filled":true,"opacity":1,"size":40,"strokeWidth":1},
"encoding":{
"x":{"field":"t","type":"quantitative"},
"y":{"field":"v","type":"quantitative"},
"stroke":{"field":"s","type":"nominal","scale":{"domain":["Controls","Clopidogrel","Aspirin","Heparin","Hirudin"],"range":["black","#666666","#999999","black","black"]},"legend":null},
"fill":{"field":"s","type":"nominal","scale":{"domain":["Controls","Clopidogrel","Aspirin","Heparin","Hirudin"],"range":["black","white","white","black","black"]},"legend":null},
"shape":{"field":"s","type":"nominal","scale":{"domain":["Controls","Clopidogrel","Aspirin","Heparin","Hirudin"],"range":["circle","square","M-1,-1L1,1M-1,1L1,-1","circle","triangle-up"]},"legend":null}}}
]
},
{"width":188,"height":26,"data":{"values":[]},"mark":"point","view":{"stroke":null}},
{"width":191,"height":26,"data":{"values":[]},"mark":"point","view":{"stroke":null}},
{
"width":188,"height":124,"data":{"name":"e"},
"resolve":{"scale":{"stroke":"independent","fill":"independent","shape":"independent"}},
"layer":[
{"mark":{"type":"line","clip":true,"strokeWidth":1.2},
"encoding":{
"x":{"field":"t","type":"quantitative","scale":{"domain":[1.5,68.5],"nice":false,"zero":false},"axis":{"values":[2,20,40,60],"title":"Time (minutes)","titleFontSize":17,"titleY":36,"titleX":77,"titleBaseline":"alphabetic","labelFontSize":14,"labelPadding":5,"ticks":false,"grid":false,"labelFlush":false}},
"y":{"field":"v","type":"quantitative","scale":{"type":"log","domain":[0.01,100]},"axis":{"values":[0.01,0.1,1,10,100],"format":"~g","labelFontSize":14,"labelPadding":3,"tickSize":5,"tickColor":"#555","domain":false,"grid":true,"gridColor":"black","gridWidth":1.2,"title":"e","titleFontSize":32,"titleAngle":0,"titleAlign":"left","titleBaseline":"alphabetic","titleX":-89,"titleY":16}},
"stroke":{"field":"s","type":"nominal","scale":{"domain":["Controls","F.VIII-null","F. IX-null","FVL"],"range":["black","black","#888888","black"]},"legend":null}}},
{"transform":[{"filter":"datum.s != 'Controls'"}],
"mark":{"type":"point","clip":true,"filled":true,"opacity":1,"size":40,"strokeWidth":1},
"encoding":{
"x":{"field":"t","type":"quantitative"},
"y":{"field":"v","type":"quantitative"},
"stroke":{"field":"s","type":"nominal","scale":{"domain":["Controls","F.VIII-null","F. IX-null","FVL"],"range":["black","black","#888888","black"]},"legend":null},
"fill":{"field":"s","type":"nominal","scale":{"domain":["Controls","F.VIII-null","F. IX-null","FVL"],"range":["black","black","white","black"]},"legend":null},
"shape":{"field":"s","type":"nominal","scale":{"domain":["Controls","F.VIII-null","F. IX-null","FVL"],"range":["circle","triangle-up","triangle-up","square"]},"legend":null}}},
{"transform":[{"filter":"datum.t < 0"}],
"mark":{"type":"point","filled":true,"opacity":1,"strokeWidth":1},
"encoding":{
"x":{"field":"t","type":"quantitative"},
"y":{"field":"v","type":"quantitative"},
"shape":{"field":"s","type":"nominal","scale":{"domain":["Controls","F.VIII-null","F. IX-null","FVL"],"range":["M-1.3,0H1.3","M-1.3,0H1.3M0,-0.43L0.4,0.28L-0.4,0.28Z","M-1.3,0H-0.3M0.3,0H1.3M0,-0.43L0.4,0.28L-0.4,0.28Z","M-1.3,0H1.3M-0.4,-0.4H0.4V0.4H-0.4Z"]},
"legend":{"orient":"none","legendX":38,"legendY":168,"direction":"horizontal","columns":4,"title":null,"symbolSize":225,"symbolStrokeWidth":1,"symbolOpacity":1,"labelFontSize":15,"labelFontWeight":"bold","labelColor":"black","labelOffset":5,"columnPadding":11,"padding":2,"strokeColor":"black","fillColor":"white","labelLimit":200}},
"stroke":{"field":"s","type":"nominal","scale":{"domain":["Controls","F.VIII-null","F. IX-null","FVL"],"range":["black","black","#888888","black"]},
"legend":{"orient":"none","legendX":38,"legendY":168,"direction":"horizontal","columns":4,"title":null,"symbolSize":225,"symbolStrokeWidth":1,"symbolOpacity":1,"labelFontSize":15,"labelFontWeight":"bold","labelColor":"black","labelOffset":5,"columnPadding":11,"padding":2,"strokeColor":"black","fillColor":"white","labelLimit":200}},
"fill":{"field":"s","type":"nominal","scale":{"domain":["Controls","F.VIII-null","F. IX-null","FVL"],"range":["black","black","white","black"]},
"legend":{"orient":"none","legendX":38,"legendY":168,"direction":"horizontal","columns":4,"title":null,"symbolSize":225,"symbolStrokeWidth":1,"symbolOpacity":1,"labelFontSize":15,"labelFontWeight":"bold","labelColor":"black","labelOffset":5,"columnPadding":11,"padding":2,"strokeColor":"black","fillColor":"white","labelLimit":200}}}}
]
},
{
"width":191,"height":124,"data":{"name":"f"},
"layer":[
{"mark":{"type":"line","clip":true,"strokeWidth":1.2},
"encoding":{
"x":{"field":"t","type":"quantitative","scale":{"domain":[1.5,68.5],"nice":false,"zero":false},"axis":{"values":[2,20,40,60],"title":"Time (minutes)","titleFontSize":17,"titleY":36,"titleBaseline":"alphabetic","labelFontSize":14,"labelPadding":5,"ticks":false,"grid":false,"labelFlush":false}},
"y":{"field":"v","type":"quantitative","scale":{"type":"log","domain":[0.01,10]},"axis":{"values":[0.01,0.1,1,10],"format":"~g","labelFontSize":14,"labelPadding":3,"tickSize":5,"tickColor":"#555","domain":false,"grid":true,"gridColor":"black","gridWidth":1.2,"title":"f","titleFontSize":32,"titleAngle":0,"titleAlign":"left","titleBaseline":"alphabetic","titleX":-44,"titleY":22}},
"stroke":{"field":"s","type":"nominal","scale":{"domain":["Controls","F.VIII-null","F. IX-null","FVL"],"range":["black","black","#888888","black"]},"legend":null}}},
{"transform":[{"filter":"datum.s != 'Controls'"}],
"mark":{"type":"point","clip":true,"filled":true,"opacity":1,"size":40,"strokeWidth":1},
"encoding":{
"x":{"field":"t","type":"quantitative"},
"y":{"field":"v","type":"quantitative"},
"stroke":{"field":"s","type":"nominal","scale":{"domain":["Controls","F.VIII-null","F. IX-null","FVL"],"range":["black","black","#888888","black"]},"legend":null},
"fill":{"field":"s","type":"nominal","scale":{"domain":["Controls","F.VIII-null","F. IX-null","FVL"],"range":["black","black","white","black"]},"legend":null},
"shape":{"field":"s","type":"nominal","scale":{"domain":["Controls","F.VIII-null","F. IX-null","FVL"],"range":["circle","triangle-up","triangle-up","square"]},"legend":null}}}
]
}
],
"config":{
"font":"Liberation Sans",
"view":{"stroke":"#999999"},
"axis":{"labelColor":"black","labelFontWeight":"bold","titleColor":"black","titleFontWeight":"bold","domainColor":"#999999"},
"legend":{"labelFont":"Liberation Sans"}
}
}
